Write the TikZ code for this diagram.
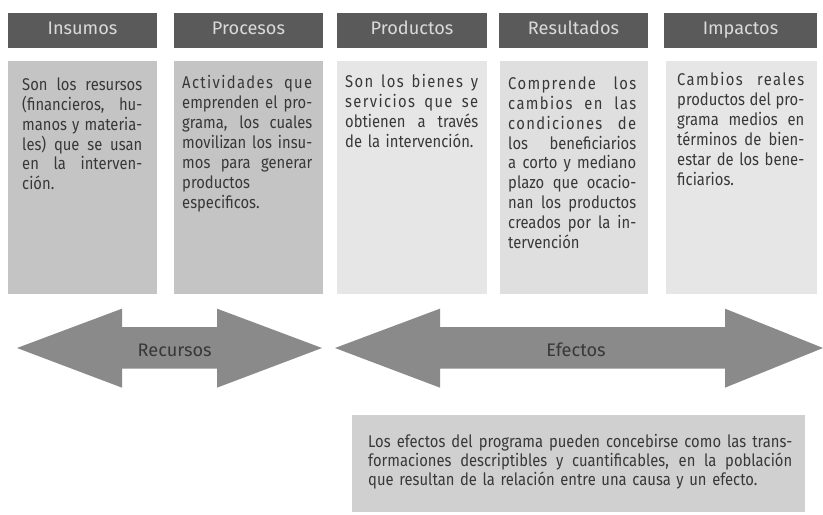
\documentclass[tikz,border=0pt]{standalone}
\usepackage{fontspec}
\setmainfont{Fira Sans}[FakeStretch=0.87]
\newfontfamily\cabfont{Fira Sans}
\newfontfamily\ancho{Fira Sans}[FakeStretch=0.87,LetterSpace=8]
\usepackage{tikz}
\definecolor{cabgris}{HTML}{5A5A5A}
\definecolor{cabtexto}{HTML}{DADADA}
\definecolor{insgris}{HTML}{C4C4C4}
\definecolor{prodgris}{HTML}{E6E6E6}
\definecolor{resgris}{HTML}{DFDFDF}
\definecolor{flechagris}{HTML}{8A8A8A}
\definecolor{notagris}{HTML}{D0D0D0}
\definecolor{texto}{HTML}{383838}
\newcommand{\jl}[1]{\makebox[\hsize][s]{\spaceskip=\fontdimen2\font plus 1em minus .4\fontdimen2\font\relax #1}}
\newcommand{\jll}[1]{\jl{\ancho #1}}

\begin{document}
\begin{tikzpicture}[
    cab/.style={fill=cabgris,text=cabtexto,font=\cabfont\fontsize{15.5}{18}\selectfont,text height=0.9em,text depth=0.2em,minimum width=4.47cm,minimum height=1.05cm,inner sep=0pt},
    caja/.style={minimum width=4.47cm,minimum height=6.99cm,inner sep=0pt},
    txt/.style={anchor=north west,inner sep=0pt,align=left,text=texto,font=\fontsize{14.5}{17}\selectfont},
    flecha/.style={fill=flechagris},
    etq/.style={text=texto,font=\cabfont\fontsize{15.5}{18}\selectfont}]
\useasboundingbox (0,0) rectangle (24.69,-15.42);
\node[cab] (hins) at (2.475,-0.915) {Insumos};
\node[cab] (hpro) at (7.455,-0.915) {Procesos};
\node[cab,minimum width=4.5cm] (hprod) at (12.36,-0.915) {Productos};
\node[cab] (hres) at (17.205,-0.915) {Resultados};
\node[cab,minimum width=4.59cm] (himp) at (22.215,-0.915) {Impactos};
\node[caja,fill=insgris] (bins) at (2.475,-5.325) {};
\node[caja,fill=insgris] (bpro) at (7.455,-5.325) {};
\node[caja,fill=prodgris,minimum width=4.5cm] (bprod) at (12.36,-5.325) {};
\node[caja,fill=resgris,minimum width=4.44cm] (bres) at (17.22,-5.325) {};
\node[caja,fill=prodgris,minimum width=4.53cm] (bimp) at (22.245,-5.325) {};
\node[txt,text width=3.6cm] (tins) at (0.66,-2.32) {\jl{Son los resursos}\\\jl{(financieros, hu-}\\\jl{manos y materia-}\\\jl{les) que se usan}\\\jl{en la interven-}\\ción.};
\node[txt,text width=3.9cm] (tpro) at (5.46,-2.26) {\jll{Actividades que}\\\jl{emprenden el pro-}\\\jl{grama, los cuales}\\\jl{movilizan los insu-}\\\jl{mos para generar}\\productos\\especificos.};
\node[txt,text width=3.99cm] (tprod) at (10.35,-2.23) {\jll{Son los bienes y}\\\jll{servicios que se}\\\jl{obtienen a través}\\de la intervención.};
\node[txt,text width=3.84cm] (tres) at (15.24,-2.29) {\jll{Comprende los}\\\jll{cambios en las}\\\jll{condiciones de}\\\jl{los beneficiarios}\\\jl{a corto y mediano}\\\jl{plazo que ocacio-}\\\jl{nan los productos}\\\jl{creados por la in-}\\tervención};
\node[txt,text width=3.81cm] (timp) at (20.31,-2.17) {\jll{Cambios reales}\\\jl{productos del pro-}\\\jl{grama medios en}\\\jl{términos de bien-}\\\jl{estar de los bene-}\\ficiarios.};
\fill[flecha] (0.51,-10.44) -- (3.66,-9.26) -- (3.66,-9.81) -- (6.51,-9.81) -- (6.51,-9.26) -- (9.66,-10.44)
    -- (6.51,-11.63) -- (6.51,-11.06) -- (3.66,-11.06) -- (3.66,-11.63) -- cycle;
\fill[flecha] (10.05,-10.44) -- (13.2,-9.26) -- (13.2,-9.81) -- (21.75,-9.81) -- (21.75,-9.26) -- (24.69,-10.44)
    -- (21.75,-11.63) -- (21.75,-11.06) -- (13.2,-11.06) -- (13.2,-11.63) -- cycle;
\node[etq] (recursos) at (5.24,-10.5) {Recursos};
\node[etq] (efectos) at (17.28,-10.5) {Efectos};
\node[fill=notagris,minimum width=13.59cm,minimum height=2.91cm,inner sep=0pt] (nota) at (17.355,-13.905) {};
\node[txt,text width=12.72cm,font=\fontsize{14.5}{16}\selectfont] (tnota) at (11.04,-13.03) {\jl{Los efectos del programa pueden concebirse como las trans-}\\\jl{formaciones descriptibles y cuantificables, en la población}\\que resultan de la relación entre una causa y un efecto.};
\end{tikzpicture}
\end{document}
